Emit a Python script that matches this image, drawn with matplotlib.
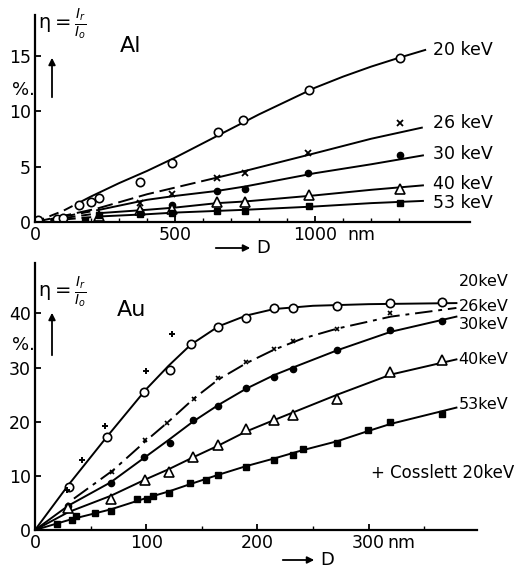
import matplotlib
matplotlib.use("Agg")
import matplotlib.pyplot as plt

W, H = 517, 574

# ---------------- Al data (D in nm, eta in %) ----------------
al_energies = ["20 keV", "26 keV", "30 keV", "40 keV", "53 keV"]

al20_px = [12, 77, 100, 157, 199, 229, 375, 490, 655, 744, 979, 1304]
al20_py = [0.2, 0.3, 0.35, 1.5, 1.8, 2.2, 3.6, 5.3, 8.1, 9.2, 11.9, 14.8]
al26_px = [375, 490, 651, 750, 976, 1304]
al26_py = [1.7, 2.5, 4.0, 4.45, 6.2, 8.9]
al30_px = [375, 490, 651, 750, 976, 1304]
al30_py = [1.0, 1.5, 2.8, 2.95, 4.4, 6.0]
al40_px = [230, 375, 490, 651, 750, 979, 1304]
al40_py = [0.5, 1.1, 1.2, 1.8, 1.8, 2.4, 3.0]
al53_px = [180, 230, 375, 490, 651, 750, 979, 1304]
al53_py = [0.2, 0.6, 0.7, 0.85, 1.0, 1.0, 1.4, 1.75]

al20_cx = [0, 100, 150, 200, 300, 400, 500, 600, 700, 800, 900, 1000, 1100, 1200, 1300, 1393]
al20_cy = [0, 1.0, 1.65, 2.3, 3.5, 4.6, 5.8, 7.1, 8.4, 9.7, 10.9, 12.1, 13.1, 14.0, 14.8, 15.5]
al26_cx = [0, 220, 400, 650, 750, 1000, 1200, 1381]
al26_cy = [0, 1.2, 2.5, 4.0, 4.6, 6.2, 7.5, 8.5]
al30_cx = [0, 230, 400, 500, 650, 750, 1000, 1200, 1385]
al30_cy = [0, 1.1, 2.0, 2.35, 2.8, 3.2, 4.4, 5.2, 6.0]
al40_cx = [0, 230, 400, 500, 650, 750, 1000, 1200, 1385]
al40_cy = [0, 0.8, 1.1, 1.3, 1.7, 1.85, 2.4, 2.9, 3.3]
al53_cx = [0, 230, 400, 500, 650, 750, 1000, 1200, 1385]
al53_cy = [0, 0.5, 0.7, 0.85, 1.0, 1.1, 1.4, 1.7, 1.9]
al_label_y = [15.5, 8.9, 6.1, 3.4, 1.7]

# ---------------- Au data ----------------
au_energies = ["20keV", "26keV", "30keV", "40keV", "53keV"]

au20_px = [30.6, 65, 98, 121.4, 140.3, 164.9, 189.7, 214.9, 231.7, 271.3, 319.3, 365.8]
au20_py = [8.0, 17.1, 25.5, 29.5, 34.4, 37.4, 39.2, 41.0, 41.0, 41.3, 41.9, 42.1]
au26_px = [69, 98.9, 119, 143, 165, 189.7, 214.9, 231.7, 271.9, 319.3]
au26_py = [10.8, 16.7, 19.8, 24.2, 28.0, 31.1, 33.4, 34.9, 37.1, 40.1]
au30_px = [30, 68, 98, 121.4, 141.7, 165, 189.7, 214.9, 231.7, 271.3, 319.3, 365.8]
au30_py = [4.5, 8.6, 13.5, 16.1, 20.4, 22.9, 26.3, 28.3, 29.8, 33.2, 36.9, 38.6]
au40_px = [30, 68.5, 98.9, 120.4, 141.7, 165, 189.7, 214.9, 231.7, 271.3, 319.3, 365.8]
au40_py = [4.0, 5.8, 9.2, 10.8, 13.5, 15.7, 18.6, 20.3, 21.2, 24.2, 29.2, 31.4]
au53_px = [20, 33, 37, 53.7, 68, 91.5, 100.4, 106.4, 120.4, 139.7, 153.9, 165, 189.7,
           214.9, 231.7, 241.3, 271.3, 299.8, 319.3, 365.8]
au53_py = [1.2, 1.8, 2.5, 3.1, 3.5, 5.8, 5.8, 6.2, 6.9, 8.6, 9.3, 10.1, 11.7,
           13.0, 13.8, 14.9, 16.1, 18.5, 20.0, 21.5]
cosslett_x = [28.5, 42, 62.9, 99.5, 123.5]
cosslett_y = [7.4, 13.0, 19.2, 29.3, 36.1]

au20_cx = [0, 30, 65, 100, 120, 140, 165, 190, 215, 250, 300, 379]
au20_cy = [0, 8.3, 17.3, 26.0, 30.3, 34.2, 37.6, 39.6, 40.8, 41.4, 41.7, 41.9]
au26_cx = [35, 70, 100, 120, 143, 165, 190, 215, 240, 272, 320, 379]
au26_cy = [5.8, 11.0, 16.5, 20.0, 24.3, 27.8, 30.8, 33.3, 35.3, 37.2, 39.4, 41.0]
au30_cx = [0, 30, 68, 100, 120, 142, 165, 190, 215, 232, 272, 320, 379]
au30_cy = [0, 4.5, 8.8, 13.6, 16.6, 20.0, 23.1, 26.1, 28.6, 30.0, 33.2, 36.6, 39.4]
au40_cx = [0, 30, 68, 100, 120, 142, 165, 190, 215, 232, 272, 320, 379]
au40_cy = [0, 3.3, 6.3, 9.4, 11.2, 13.4, 15.6, 18.2, 20.3, 21.7, 25.0, 28.7, 31.5]
au53_cx = [0, 33, 68, 100, 120, 140, 165, 190, 215, 240, 272, 300, 320, 379]
au53_cy = [0, 2.0, 3.8, 5.9, 7.1, 8.5, 10.2, 11.8, 13.2, 14.7, 16.4, 18.3, 19.6, 22.6]
au_label_y = [45.8, 41.2, 38.0, 31.4, 23.1]

plt.rcParams['font.family'] = ['DejaVu Sans']
fig = plt.figure(figsize=(W / 100, H / 100), dpi=100)


def fx(px):
    return px / W


def fy(py):
    return 1 - py / H


def style_axes(ax):
    for s in ("top", "right"):
        ax.spines[s].set_visible(False)
    for s in ("left", "bottom"):
        ax.spines[s].set_linewidth(1.6)
    ax.tick_params(direction="in", length=4, width=1.3, labelsize=12.5, pad=3)
    ax.tick_params(which="minor", direction="in", length=3, width=1.0)


lw = 1.4
col = "black"

# ================= Al panel =================
ax1 = fig.add_axes([fx(35), fy(222), fx(470) - fx(35), fy(15) - fy(222)])
style_axes(ax1)
ax1.set_xlim(0, 1553)
ax1.set_ylim(0, 18.65)
ax1.set_xticks([0, 500, 1000])
ax1.set_xticklabels(["0", "500", "1000"])
ax1.set_xticks(range(100, 1400, 100), minor=True)
ax1.set_yticks([0, 5, 10, 15])
ax1.annotate("nm", xy=(1114, 0), xycoords=("data", "axes fraction"),
             xytext=(0, -3), textcoords="offset points", va="top", ha="left",
             fontsize=12.5)


def split_plot(ax, cx, cy, xcut, dashes=(5, 3)):
    i = next(k for k, v in enumerate(cx) if v >= xcut)
    ax.plot(cx[:i + 1], cy[:i + 1], color=col, lw=lw, dashes=dashes)
    ax.plot(cx[i:], cy[i:], color=col, lw=lw)


split_plot(ax1, al20_cx, al20_cy, 150)
split_plot(ax1, al26_cx, al26_cy, 650, dashes=(8, 3))
split_plot(ax1, al30_cx, al30_cy, 230)
split_plot(ax1, al40_cx, al40_cy, 230)
split_plot(ax1, al53_cx, al53_cy, 230)

ax1.plot(al20_px, al20_py, "o", mfc="white", mec=col, ms=6, mew=1.2)
ax1.plot(al26_px, al26_py, "x", color=col, ms=4, mew=1.3)
ax1.plot(al30_px, al30_py, "o", color=col, ms=4.5)
ax1.plot(al40_px, al40_py, "^", mfc="white", mec=col, ms=7, mew=1.2)
ax1.plot(al53_px, al53_py, "s", color=col, ms=4)

for lab, yv in zip(al_energies, al_label_y):
    ax1.text(1420, yv, lab, fontsize=12.5, va="center", ha="left", clip_on=False)
ax1.text(340, 15.9, "Al", fontsize=16, va="center", ha="center")

# ================= Au panel =================
ax2 = fig.add_axes([fx(35), fy(530), fx(477) - fx(35), fy(263) - fy(530)])
style_axes(ax2)
ax2.set_xlim(0, 397.5)
ax2.set_ylim(0, 49.3)
ax2.set_xticks([0, 100, 200, 300])
ax2.set_xticks([50, 150, 250, 350], minor=True)
ax2.set_yticks([0, 10, 20, 30, 40])
ax2.annotate("nm", xy=(316.5, 0), xycoords=("data", "axes fraction"),
             xytext=(0, -3), textcoords="offset points", va="top", ha="left",
             fontsize=12.5)

ax2.plot(au20_cx, au20_cy, color=col, lw=lw)
ax2.plot(au26_cx, au26_cy, color=col, lw=lw, dashes=(9, 3, 2, 3))
ax2.plot(au30_cx, au30_cy, color=col, lw=lw)
ax2.plot(au40_cx, au40_cy, color=col, lw=lw)
ax2.plot(au53_cx, au53_cy, color=col, lw=lw)

ax2.plot(au20_px, au20_py, "o", mfc="white", mec=col, ms=6, mew=1.2)
ax2.plot(au26_px, au26_py, "x", color=col, ms=3.5, mew=1.2)
ax2.plot(au30_px, au30_py, "o", color=col, ms=4.5)
ax2.plot(au40_px, au40_py, "^", mfc="white", mec=col, ms=7, mew=1.2)
ax2.plot(au53_px, au53_py, "s", color=col, ms=4)
ax2.plot(cosslett_x, cosslett_y, "+", color=col, ms=5, mew=1.4)

for lab, yv in zip(au_energies, au_label_y):
    ax2.text(381, yv, lab, fontsize=11.5, va="center", ha="left", clip_on=False)
ax2.text(302, 10.5, "+ Cosslett 20keV", fontsize=12, va="center", ha="left",
         clip_on=False)
ax2.text(87, 40.6, "Au", fontsize=16, va="center", ha="center")

# ---------------- axis quantity labels (figure coords) ----------------
for (ex, ey, pct_y, arr_top, arr_bot) in [(38, 24, 90, 55, 100), (38, 292, 345, 310, 358)]:
    fig.text(fx(ex), fy(ey), r"η$= \frac{I_r}{I_o}$", fontsize=14,
             va="center", ha="left")
    fig.text(fx(12), fy(pct_y), "%.", fontsize=13, va="center", ha="left")
    fig.add_artist(matplotlib.patches.FancyArrowPatch(
        (fx(52), fy(arr_bot)), (fx(52), fy(arr_top)), transform=fig.transFigure,
        arrowstyle="-|>", mutation_scale=10, color=col, lw=1.3))

for (x0, x1, yy, dx) in [(213, 253, 248, 256), (280, 317, 560, 320)]:
    fig.add_artist(matplotlib.patches.FancyArrowPatch(
        (fx(x0), fy(yy)), (fx(x1), fy(yy)), transform=fig.transFigure,
        arrowstyle="-|>", mutation_scale=10, color=col, lw=1.3))
    fig.text(fx(dx), fy(yy), "D", fontsize=13, va="center", ha="left")

fig.savefig("out.png", dpi=100)
